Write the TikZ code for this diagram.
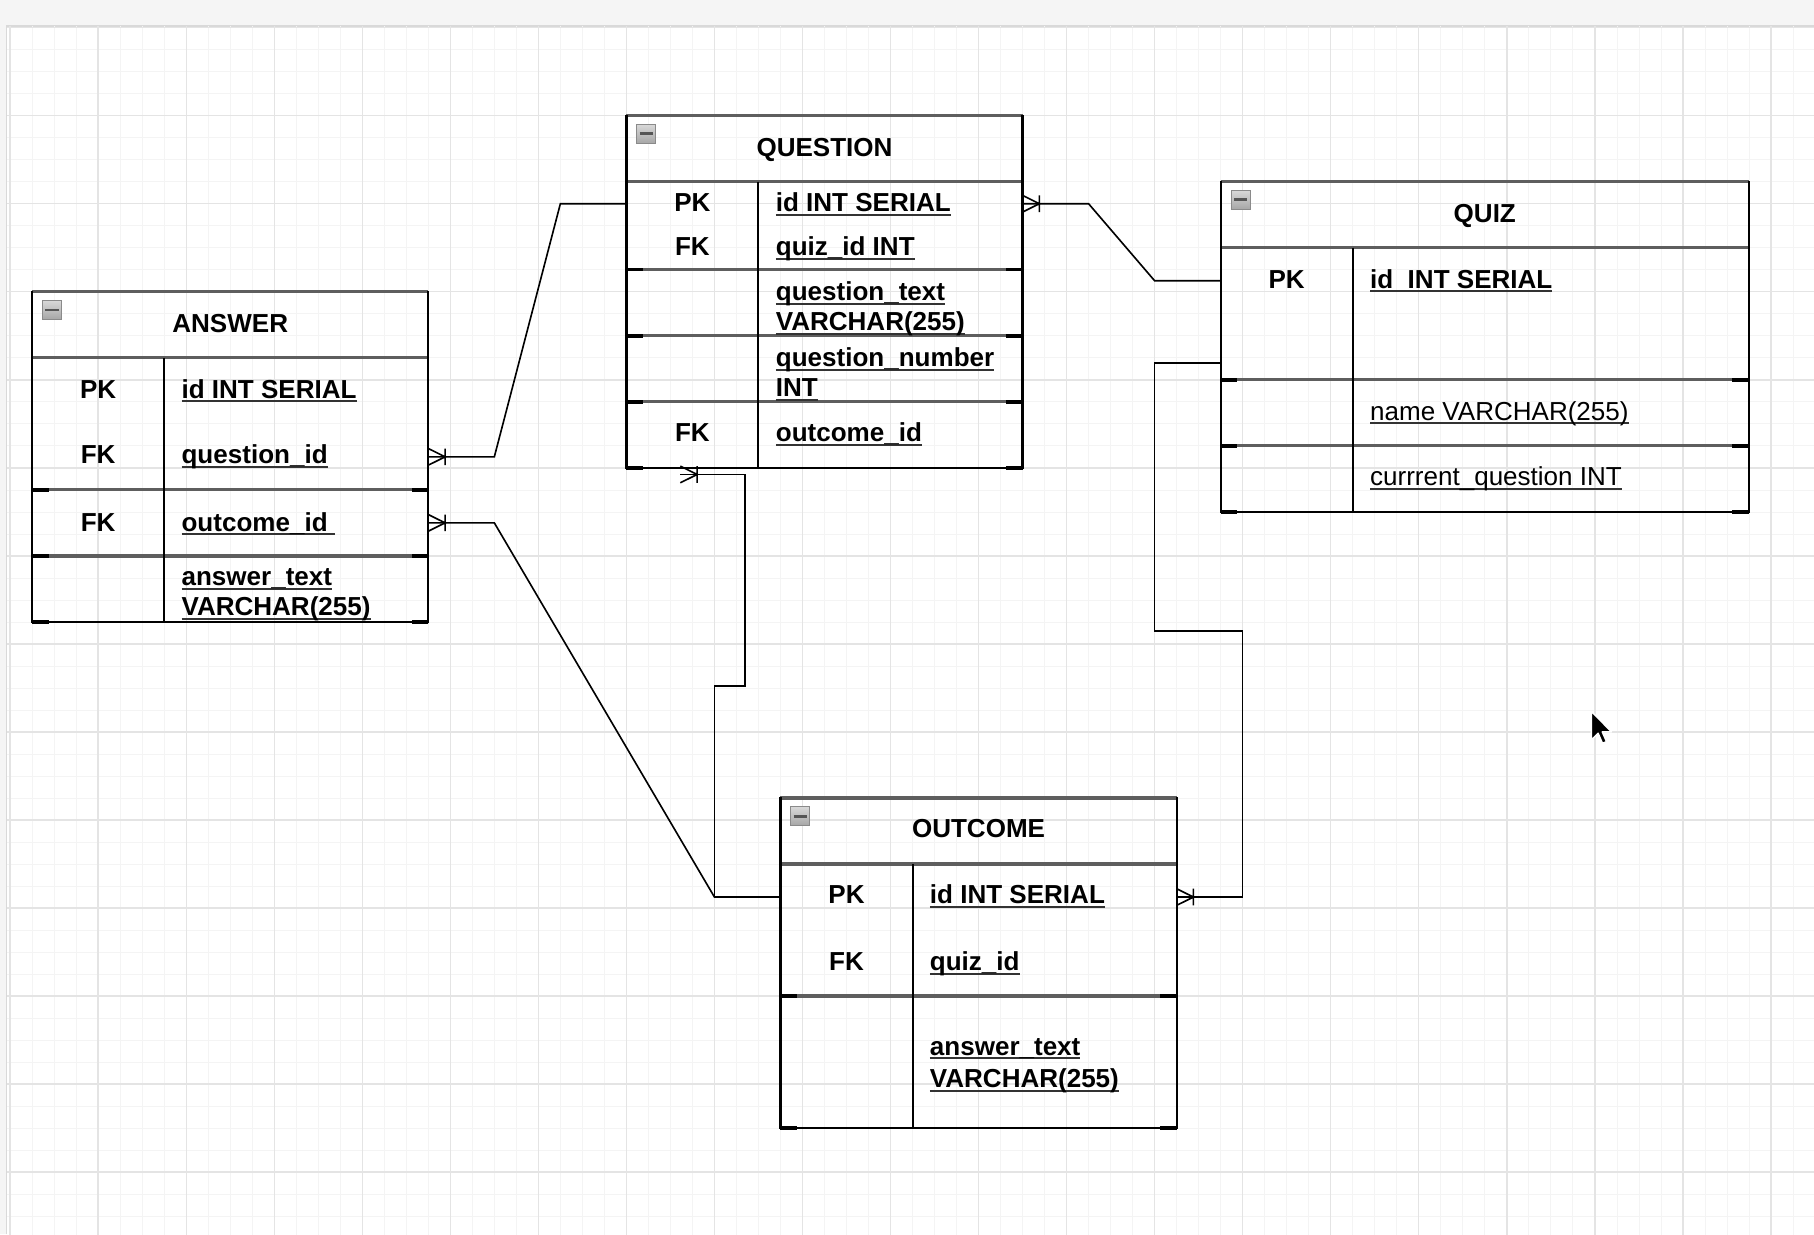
\documentclass[tikz,border=0pt]{standalone}
\usepackage{fontspec}
\setmainfont{Liberation Sans}
\usetikzlibrary{calc}
\definecolor{sepgray}{HTML}{5E5E5E}
\definecolor{majgrid}{HTML}{E4E4E4}
\definecolor{mingrid}{HTML}{F4F4F4}
\definecolor{outside}{HTML}{F5F5F5}
\definecolor{ulgray}{HTML}{333333}
\definecolor{icoborder}{HTML}{8A8A8A}
\definecolor{icotop}{HTML}{D8D8D8}
\definecolor{icobot}{HTML}{A6A6A6}
\definecolor{icodash}{HTML}{555555}
\newcommand\fieldul[1]{\setbox0\hbox{#1}\rlap{\color{ulgray}\rule[-3.8pt]{\wd0}{1.8pt}}\box0}
\newcommand\rowsepline[3]{\draw[sepline] (#1,#3) -- (#2,#3); \draw[sepend] (#1,#3) -- ++(7.6,0) (#2,#3) -- ++(-7.6,0);}
\tikzset{
  tb/.style={font=\fontsize{22.5}{26}\selectfont\bfseries, inner sep=0pt},
  ttl/.style={tb, anchor=base},
  keyl/.style={tb, anchor=base},
  fld/.style={tb, anchor=base west, align=left},
  fldr/.style={font=\fontsize{22.5}{26}\selectfont, inner sep=0pt, anchor=base west},
  border/.style={line width=1.9pt, black, line cap=rect},
  sepline/.style={line width=2.8pt, sepgray},
  sepend/.style={line width=3pt, black},
  divider/.style={line width=1.7pt, black},
  conn/.style={line width=1.4pt, black, line join=miter},
  crowfoot/.pic={\draw[conn] (0pt,7.2pt) -- (14.5pt,0pt) -- (0pt,-7.2pt) (14.5pt,7.2pt) -- (14.5pt,-7.2pt);},
  collapse/.pic={\draw[draw=icoborder, top color=icotop, bottom color=icobot, line width=0.8pt] (0pt,0pt) rectangle (16.4pt,-16.4pt);
                 \draw[icodash, line width=2.4pt] (2.4pt,-8.2pt) -- (14pt,-8.2pt);}
}
\begin{document}
\begin{tikzpicture}[x=1.9025pt, y=-1.9025pt]
\useasboundingbox (0pt,0pt) rectangle (1568pt,-1067pt);
\fill[outside] (0pt,0pt) rectangle (1568pt,-1067pt);
\fill[white] (6pt,-23pt) rectangle (1568pt,-1067pt);
\draw[gray!30, line width=1pt] (5.5pt,-1067pt) -- (5.5pt,-22.5pt) -- (1568pt,-22.5pt);
\begin{scope}[shift={(8.75pt,-23.9pt)}]
  % grid
  \begin{scope}
    \clip (-1.4,-0.4) rectangle (820,549);
    \foreach \i in {0,10,...,820} \draw[mingrid, line width=0.6pt] (\i,-2) -- (\i,550);
    \foreach \j in {0,10,...,550} \draw[mingrid, line width=0.6pt] (-2,\j) -- (821,\j);
    \foreach \i in {0,40,...,820} \draw[majgrid, line width=1.2pt] (\i,-2) -- (\i,550);
    \foreach \j in {0,40,...,550} \draw[majgrid, line width=1.2pt] (-2,\j) -- (821,\j);
  \end{scope}

  % ---------- ANSWER ----------
  \draw[sepline] (10,120) -- (190,120);
  \draw[sepline] (10,150) -- (190,150);
  \rowsepline{10}{190}{210}
  \rowsepline{10}{190}{240}
  \draw[border] (10,120) -- (10,270) -- (190,270) -- (190,120);
  \draw[sepend] (10,270) -- ++(7.6,0) (190,270) -- ++(-7.6,0);
  \draw[divider] (70,150) -- (70,270);
  \pic[shift={(9pt,-7.5pt)}] at (10,120) {collapse};
  \node[ttl] (ansT) at (100,138.5) {ANSWER};
  \node[keyl] (ansK1) at (40,168.3) {PK};
  \node[keyl] (ansK2) at (40,198.2) {FK};
  \node[keyl] (ansK3) at (40,228.7) {FK};
  \node[fld] (ansF1) at (77.8,168.3) {\fieldul{id INT SERIAL}};
  \node[fld] (ansF2) at (77.8,198.2) {\fieldul{question\_id}};
  \node[fld] (ansF3) at (77.8,228.7) {\fieldul{outcome\_id\ }};
  \node[fld] (ansF4) at (77.8,267.3) {\fieldul{answer\_text}\\\fieldul{VARCHAR(255)}};

  % ---------- QUESTION ----------
  \draw[sepline] (280,40) -- (460,40);
  \draw[sepline] (280,70) -- (460,70);
  \rowsepline{280}{460}{110}
  \rowsepline{280}{460}{140}
  \rowsepline{280}{460}{170}
  \draw[border] (280,40) -- (280,200) -- (460,200) -- (460,40);
  \draw[sepend] (280,200) -- ++(7.6,0) (460,200) -- ++(-7.6,0);
  \draw[divider] (340,70) -- (340,200);
  \pic[shift={(9pt,-7.5pt)}] at (280,40) {collapse};
  \node[ttl] (qT) at (370,58.4) {QUESTION};
  \node[keyl] (qK1) at (310,83.6) {PK};
  \node[keyl] (qK2) at (310,103.6) {FK};
  \node[keyl] (qK3) at (310,188.2) {FK};
  \node[fld] (qF1) at (347.8,83.6) {\fieldul{id INT SERIAL}};
  \node[fld] (qF2) at (347.8,103.6) {\fieldul{quiz\_id INT}};
  \node[fld] (qF3) at (347.8,137.8) {\fieldul{question\_text}\\\fieldul{VARCHAR(255)}};
  \node[fld] (qF4) at (347.8,167.8) {\fieldul{question\_number}\\\fieldul{INT}};
  \node[fld] (qF5) at (347.8,188.2) {\fieldul{outcome\_id}};

  % ---------- QUIZ ----------
  \draw[sepline] (550,70) -- (790,70);
  \draw[sepline] (550,100) -- (790,100);
  \rowsepline{550}{790}{160}
  \rowsepline{550}{790}{190}
  \draw[border] (550,70) -- (550,220) -- (790,220) -- (790,70);
  \draw[sepend] (550,220) -- ++(7.6,0) (790,220) -- ++(-7.6,0);
  \draw[divider] (610,100) -- (610,220);
  \pic[shift={(9pt,-7.5pt)}] at (550,70) {collapse};
  \node[ttl] (zT) at (670,88.4) {QUIZ};
  \node[keyl] (zK1) at (580,118.3) {PK};
  \node[fld] (zF1) at (617.8,118.3) {\fieldul{id\ \ INT SERIAL}};
  \node[fldr] (zF2) at (617.8,178.3) {\fieldul{name VARCHAR(255)}};
  \node[fldr] (zF3) at (617.8,208.2) {\fieldul{currrent\_question INT}};

  % ---------- OUTCOME ----------
  \draw[sepline] (350,350) -- (530,350);
  \draw[sepline] (350,380) -- (530,380);
  \rowsepline{350}{530}{440}
  \draw[border] (350,350) -- (350,500) -- (530,500) -- (530,350);
  \draw[sepend] (350,500) -- ++(7.6,0) (530,500) -- ++(-7.6,0);
  \draw[divider] (410,380) -- (410,500);
  \pic[shift={(9pt,-7.5pt)}] at (350,350) {collapse};
  \node[ttl] (oT) at (440,368) {OUTCOME};
  \node[keyl] (oK1) at (380,397.9) {PK};
  \node[keyl] (oK2) at (380,428.4) {FK};
  \node[fld] (oF1) at (417.8,397.9) {\fieldul{id INT SERIAL}};
  \node[fld] (oF2) at (417.8,428.4) {\fieldul{quiz\_id}};
  \node[fld, font=\fontsize{22.5}{28}\selectfont\bfseries] (oF3) at (417.8,481.5) {\fieldul{answer\_text}\\\fieldul{VARCHAR(255)}};

  % ---------- connection points ----------
  \coordinate (ansQ) at (190,195);
  \coordinate (ansO) at (190,225);
  \coordinate (qPK) at (280,80);
  \coordinate (qRight) at (460,80);
  \coordinate (qBot) at (304.5,203);
  \coordinate (outL) at (350,395);
  \coordinate (outR) at (530,395);
  \coordinate (quizA) at (550,115);
  \coordinate (quizB) at (550,152.5);

  % ---------- connectors ----------
  \draw[conn] (ansQ) -- ++(30,0) -- ($(qPK)+(-30,0)$) -- (qPK);
  \draw[conn] (ansO) -- ++(30,0) -- ($(outL)+(-30,0)$) -- (outL);
  \draw[conn] (qBot) -- ++(29.4,0) -- ++(0,96) -- ($(outL)+(-30,-96)$) -- ($(outL)+(-30,0)$) -- (outL);
  \draw[conn] (qRight) -- ++(30,0) -- ($(quizA)+(-30,0)$) -- (quizA);
  \draw[conn] (outR) -- ++(30,0) -- ++(0,-121) -- ++(-40,0) |- (quizB);
  \pic at (ansQ) {crowfoot};
  \pic at (ansO) {crowfoot};
  \pic at (qBot) {crowfoot};
  \pic at (qRight) {crowfoot};
  \pic at (outR) {crowfoot};
\end{scope}

% mouse pointer
\filldraw[black, draw=white, line width=1.2pt, line join=round, shift={(1375.6pt,-615pt)}]
  (0pt,0pt) -- (0pt,-24.5pt) -- (5.8pt,-18.8pt) -- (9.6pt,-27.5pt) -- (13pt,-26pt) -- (9.3pt,-17.6pt) -- (17.3pt,-17.6pt) -- cycle;
\end{tikzpicture}
\end{document}
